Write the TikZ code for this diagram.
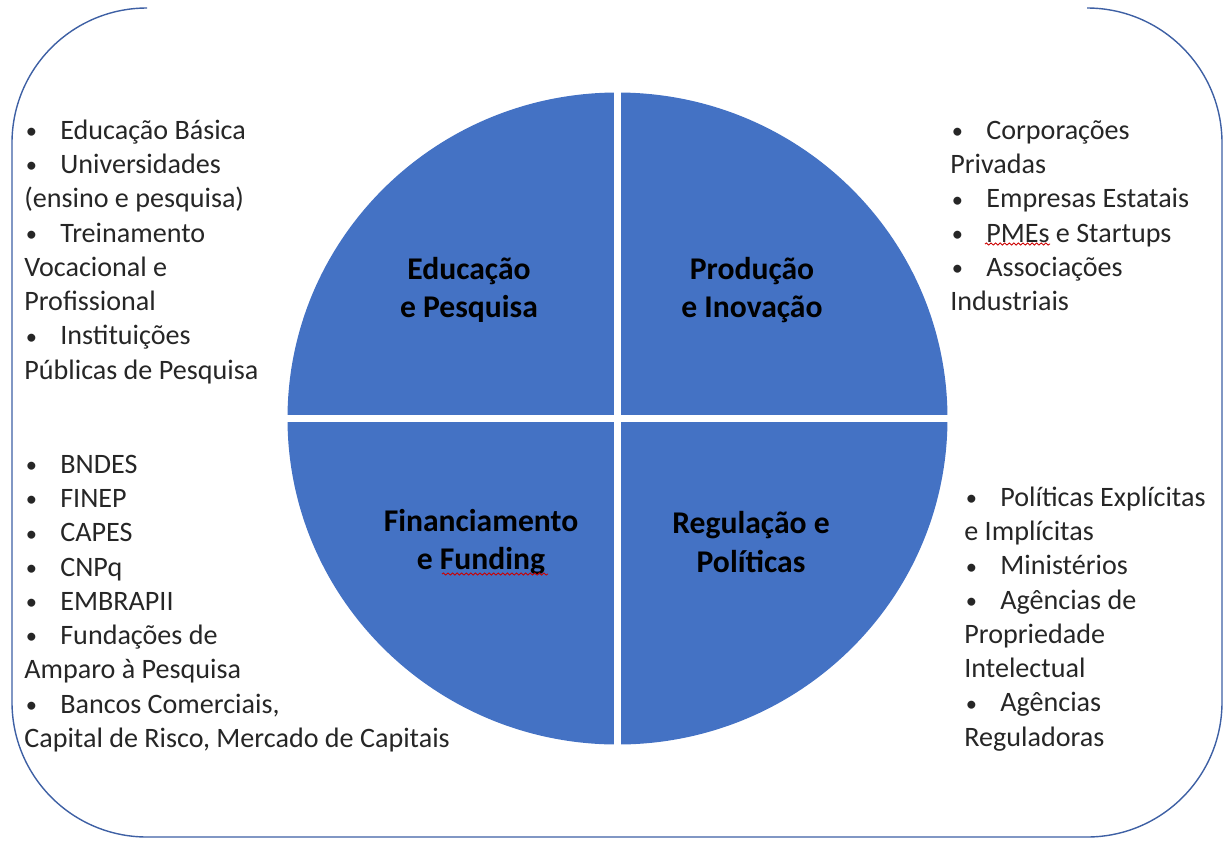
\documentclass[tikz,border=0pt]{standalone}
\usepackage{fontspec}
\setmainfont{Carlito}
\usetikzlibrary{decorations.pathmorphing}
\definecolor{quadblue}{RGB}{68,114,196}
\definecolor{framblue}{RGB}{62,96,164}
\definecolor{txtgray}{RGB}{38,38,38}
\newcommand{\bul}{\makebox[0.72cm][l]{\hspace{0.03cm}\raisebox{0.4pt}{\scalebox{0.8}{\textbullet}}}}

\begin{document}
\begin{tikzpicture}[x=0.02cm, y=-0.02cm,
  lista/.style={anchor=north west, inner sep=0pt, align=left, text=txtgray, font=\fontsize{16}{19.5}\selectfont},
  rotulo/.style={align=center, inner sep=0pt, font=\fontsize{18}{21.8}\selectfont\bfseries},
  ondinha/.style={red!80!black, line width=0.5pt, decorate, decoration={snake, amplitude=0.6pt, segment length=2.6pt}}]
\useasboundingbox (0,0) rectangle (1225,840);
\draw[framblue, line width=0.8pt, rounded corners=2.7cm] (147,8) -- (12,8) -- (12,837) -- (1222,837) -- (1222,8) -- (1087,8);

\fill[quadblue] (617.5,418.5) coordinate (centro) ellipse [x radius=330, y radius=326];
\draw[white, line width=0.14cm] (617.5,85) -- (617.5,752);
\draw[white, line width=0.14cm] (280,418.5) -- (955,418.5);

\node[rotulo] (educ) at (469,290) {Educação\\e Pesquisa};
\node[rotulo] (prod) at (752,290) {Produção\\e Inovação};
\node[rotulo] (fin) at (481,542) {Financiamento\\e Funding};
\node[rotulo] (reg) at (751,542) {Regulação e\\Políticas};

\node[lista] (listaEduc) at (24,115) {\strut\bul Educação Básica\\ \bul Universidades\\(ensino e pesquisa)\\ \bul Treinamento\\Vocacional e\\Profissional\\ \bul Instituições\\Públicas de Pesquisa};
\node[lista] (listaProd) at (950,115) {\strut\bul Corporações\\Privadas\\ \bul Empresas Estatais\\ \bul PMEs e Startups\\ \bul Associações\\Industriais};
\node[lista] (listaFin) at (24,449) {\strut\bul BNDES\\ \bul FINEP\\ \bul CAPES\\ \bul CNPq\\ \bul EMBRAPII\\ \bul Fundações de\\Amparo à Pesquisa\\ \bul Bancos Comerciais,\\Capital de Risco, Mercado de Capitais};
\node[lista] (listaReg) at (964,482) {\strut\bul Políticas Explícitas\\e Implícitas\\ \bul Ministérios\\ \bul Agências de\\Propriedade\\Intelectual\\ \bul Agências\\Reguladoras};

\draw[ondinha] (985,244) -- (1050,244);
\draw[ondinha] (442,574) -- (548,574);

\end{tikzpicture}
\end{document}
